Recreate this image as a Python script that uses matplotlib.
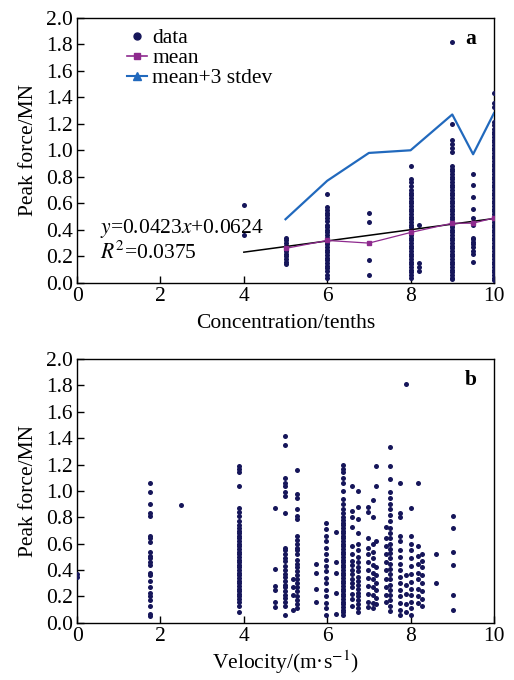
import matplotlib
matplotlib.use("Agg")
import matplotlib.pyplot as plt
from matplotlib.lines import Line2D

# ----------------------------------------------------------------------
# Data
# ----------------------------------------------------------------------
# (a) peak force vs ice concentration
conc_levels = [4, 5, 6, 7, 8, 8.2, 9, 9.5, 10]
force_c4 = [0.59, 0.36]
force_c5 = [0.34, 0.32, 0.30, 0.28, 0.27, 0.25, 0.24, 0.22, 0.20, 0.18, 0.16, 0.14]
force_c6 = [0.67, 0.57, 0.55, 0.53, 0.51, 0.49, 0.47, 0.44, 0.42, 0.40, 0.38, 0.36,
            0.34, 0.33, 0.31, 0.29, 0.27, 0.25, 0.23, 0.21, 0.19, 0.17, 0.15, 0.13,
            0.11, 0.09, 0.06, 0.04]
force_c7 = [0.53, 0.46, 0.17, 0.06]
force_c8 = [0.88, 0.78, 0.76, 0.73, 0.70, 0.68, 0.66, 0.64, 0.62, 0.60, 0.58, 0.56,
            0.54, 0.52, 0.50, 0.48, 0.46, 0.44, 0.42, 0.40, 0.38, 0.36, 0.34, 0.32,
            0.30, 0.28, 0.26, 0.24, 0.22, 0.20, 0.18, 0.16, 0.14, 0.12, 0.10, 0.08,
            0.06, 0.04]
force_c82 = [0.44, 0.15, 0.12, 0.09]
force_c9 = [1.82, 1.20, 1.08, 1.05, 1.02, 0.99, 0.88, 0.86, 0.84, 0.82, 0.80, 0.78,
            0.76, 0.74, 0.72, 0.70, 0.68, 0.66, 0.64, 0.62, 0.60, 0.58, 0.56, 0.54,
            0.52, 0.50, 0.48, 0.46, 0.44, 0.42, 0.40, 0.38, 0.36, 0.34, 0.32, 0.30,
            0.28, 0.26, 0.24, 0.22, 0.20, 0.18, 0.16, 0.14, 0.12, 0.10, 0.08, 0.06,
            0.04, 0.03]
force_c95 = [0.82, 0.74, 0.65, 0.56, 0.49, 0.46, 0.44, 0.34, 0.33, 0.31, 0.29, 0.27,
             0.24, 0.22, 0.16]
force_c10 = [1.43, 1.36, 1.33, 1.21, 1.19, 1.16, 1.14, 1.12, 1.10, 1.08, 1.06, 1.04,
             1.02, 1.00, 0.98, 0.96, 0.94, 0.92, 0.90, 0.88, 0.86, 0.84, 0.82, 0.80,
             0.78, 0.76, 0.74, 0.72, 0.70, 0.68, 0.66, 0.64, 0.62, 0.60, 0.58, 0.56,
             0.54, 0.52, 0.50, 0.48, 0.46, 0.44, 0.42, 0.40, 0.38, 0.36, 0.34, 0.32,
             0.30, 0.28, 0.26, 0.24, 0.22, 0.20, 0.18, 0.16, 0.14, 0.12, 0.10, 0.08,
             0.06, 0.04, 0.02]
force_by_conc = [force_c4, force_c5, force_c6, force_c7, force_c8, force_c82,
                 force_c9, force_c95, force_c10]

stat_conc = [5, 6, 7, 8, 9, 9.5, 10]
mean_force = [0.26, 0.32, 0.30, 0.38, 0.45, 0.45, 0.49]
upper_force = [0.48, 0.77, 0.98, 1.00, 1.27, 0.97, 1.28]

fit_slope, fit_icpt = 0.0423, 0.0624
fit_range = [4, 10]

# (b) peak force vs velocity
vel_levels = [0.0, 1.74, 2.5, 3.88, 4.74, 4.98, 5.18, 5.28, 5.74, 5.98, 6.22, 6.38,
              6.6, 6.74, 6.98, 7.1, 7.18, 7.42, 7.51, 7.74, 7.88, 8.02, 8.18, 8.28,
              8.62, 9.02]
force_v00 = [0.35, 0.37]
force_v17 = [1.06, 0.99, 0.90, 0.83, 0.81, 0.66, 0.64, 0.61, 0.54, 0.51, 0.49, 0.46,
             0.44, 0.38, 0.36, 0.32, 0.27, 0.23, 0.20, 0.17, 0.13, 0.07, 0.05]
force_v25 = [0.89]
force_v39 = [1.19, 1.17, 1.14, 1.04, 0.87, 0.84, 0.81, 0.77, 0.74, 0.72, 0.70, 0.68,
             0.66, 0.64, 0.62, 0.60, 0.58, 0.56, 0.54, 0.52, 0.50, 0.48, 0.46, 0.44,
             0.42, 0.40, 0.38, 0.36, 0.34, 0.32, 0.30, 0.28, 0.26, 0.24, 0.22, 0.20,
             0.18, 0.16, 0.13, 0.08]
force_v47 = [0.87, 0.41, 0.28, 0.25, 0.16, 0.12]
force_v50 = [1.42, 1.35, 1.10, 1.06, 1.04, 0.99, 0.96, 0.83, 0.57, 0.55, 0.52, 0.49,
             0.47, 0.43, 0.40, 0.37, 0.35, 0.32, 0.29, 0.27, 0.24, 0.21, 0.19, 0.16,
             0.13, 0.06]
force_v52 = [0.33, 0.27, 0.21, 0.10]
force_v53 = [1.16, 0.98, 0.95, 0.86, 0.81, 0.79, 0.66, 0.63, 0.60, 0.57, 0.55, 0.52,
             0.48, 0.45, 0.42, 0.39, 0.36, 0.33, 0.30, 0.27, 0.24, 0.20, 0.17, 0.14,
             0.11]
force_v57 = [0.45, 0.38, 0.26, 0.16]
force_v60 = [0.76, 0.71, 0.66, 0.62, 0.57, 0.52, 0.48, 0.43, 0.39, 0.34, 0.30, 0.25,
             0.20, 0.15, 0.11, 0.06]
force_v62 = [0.69, 0.46, 0.38, 0.23, 0.07]
force_v64 = [1.20, 1.17, 1.14, 1.10, 1.06, 1.00, 0.94, 0.90, 0.86, 0.83, 0.80, 0.78,
             0.76, 0.74, 0.72, 0.70, 0.68, 0.66, 0.64, 0.62, 0.60, 0.58, 0.56, 0.54,
             0.52, 0.50, 0.48, 0.46, 0.44, 0.42, 0.40, 0.38, 0.36, 0.34, 0.32, 0.30,
             0.28, 0.26, 0.24, 0.22, 0.20, 0.18, 0.16, 0.14, 0.12, 0.10, 0.08, 0.06]
force_v66 = [1.04, 0.85, 0.80, 0.73, 0.58, 0.52, 0.47, 0.44, 0.40, 0.37, 0.33, 0.30,
             0.27, 0.22, 0.18, 0.13]
force_v67 = [1.00, 0.88, 0.79, 0.68, 0.60, 0.55, 0.50, 0.46, 0.42, 0.39, 0.35, 0.32,
             0.29, 0.26, 0.23, 0.20, 0.17, 0.14, 0.11, 0.08]
force_v70 = [0.88, 0.84, 0.64, 0.57, 0.52, 0.46, 0.40, 0.34, 0.28, 0.22, 0.16, 0.12]
force_v71 = [0.93, 0.80, 0.60, 0.54, 0.49, 0.44, 0.38, 0.33, 0.27, 0.21, 0.15, 0.11]
force_v72 = [1.19, 1.04, 0.62, 0.42, 0.36, 0.30, 0.25, 0.19, 0.14]
force_v74 = [0.73, 0.64, 0.58, 0.52, 0.46, 0.40, 0.33, 0.27, 0.21, 0.16]
force_v75 = [1.33, 1.19, 1.09, 0.99, 0.95, 0.90, 0.86, 0.82, 0.77, 0.72, 0.68, 0.64,
             0.60, 0.56, 0.53, 0.49, 0.45, 0.41, 0.37, 0.33, 0.29, 0.25, 0.21, 0.17,
             0.13, 0.09]
force_v77 = [1.06, 0.83, 0.80, 0.66, 0.62, 0.55, 0.50, 0.45, 0.40, 0.35, 0.30, 0.25,
             0.20, 0.15, 0.10, 0.06]
force_v79 = [1.81, 0.36, 0.29, 0.22, 0.14, 0.08]
force_v80 = [0.87, 0.66, 0.60, 0.55, 0.49, 0.43, 0.37, 0.31, 0.26, 0.21, 0.16, 0.11,
             0.06]
force_v82 = [1.06, 0.58, 0.51, 0.45, 0.38, 0.33, 0.26, 0.20, 0.15]
force_v83 = [0.52, 0.47, 0.42, 0.36, 0.30, 0.24, 0.18, 0.13]
force_v86 = [0.52, 0.30]
force_v90 = [0.81, 0.72, 0.54, 0.44, 0.21, 0.10]
force_by_vel = [force_v00, force_v17, force_v25, force_v39, force_v47, force_v50,
                force_v52, force_v53, force_v57, force_v60, force_v62, force_v64,
                force_v66, force_v67, force_v70, force_v71, force_v72, force_v74,
                force_v75, force_v77, force_v79, force_v80, force_v82, force_v83,
                force_v86, force_v90]

yticks = [0.0, 0.2, 0.4, 0.6, 0.8, 1.0, 1.2, 1.4, 1.6, 1.8, 2.0]
xticks = [0, 2, 4, 6, 8, 10]

# ----------------------------------------------------------------------
# Style
# ----------------------------------------------------------------------
plt.rcParams["font.family"] = ["Liberation Serif", "DejaVu Serif"]
plt.rcParams["mathtext.fontset"] = "stix"
FS = 15.5
plt.rcParams["font.size"] = FS

DOT = "#16165a"
BLUE = "#2169bd"
PURPLE = "#8e2a8e"


def flatten(levels, groups):
    xs, ys = [], []
    for lv, grp in zip(levels, groups):
        xs += [lv] * len(grp)
        ys += grp
    return xs, ys


def style_axes(ax):
    ax.set_xlim(0, 10)
    ax.set_ylim(0, 2.0)
    ax.set_xticks(xticks)
    ax.set_yticks(yticks)
    ax.set_yticklabels([f"{t:.1f}" for t in yticks])
    ax.tick_params(direction="in", length=5, width=1, labelsize=FS, pad=3)
    for sp in ax.spines.values():
        sp.set_linewidth(1.0)
    ax.set_ylabel("Peak force/MN", fontsize=FS, labelpad=6)


fig = plt.figure(figsize=(5.14, 6.8), dpi=100)
ax_a = fig.add_axes([0.150, 0.584, 0.811, 0.390])
ax_b = fig.add_axes([0.150, 0.084, 0.811, 0.388])

# ---- panel a ----
xa, ya = flatten(conc_levels, force_by_conc)
ax_a.scatter(xa, ya, s=13, color=DOT, linewidths=0, zorder=3)
fit_y = [fit_slope * v + fit_icpt for v in fit_range]
ax_a.plot(fit_range, fit_y, color="black", lw=1.1, zorder=4)
ax_a.plot(stat_conc, mean_force, color=PURPLE, lw=0.9, marker="s", ms=3.5, zorder=4)
ax_a.plot(stat_conc, upper_force, color=BLUE, lw=1.6, zorder=4)
style_axes(ax_a)
ax_a.set_xlabel("Concentration/tenths", fontsize=FS, labelpad=6)

handles = [
    Line2D([], [], color=DOT, marker="o", ls="none", ms=5),
    Line2D([], [], color=PURPLE, marker="s", ms=5, lw=1.2),
    Line2D([], [], color=BLUE, marker="^", ms=6, lw=1.5),
]
ax_a.legend(handles, ["data", "mean", "mean+3 stdev"], loc="upper left",
            frameon=False, fontsize=FS, handlelength=0.9, handletextpad=0.25,
            labelspacing=0.0, borderaxespad=0.0, borderpad=0.3,
            bbox_to_anchor=(0.105, 0.985))
ax_a.text(0.55, 0.375, "$y$=0.0423$x$+0.0624", fontsize=FS)
ax_a.text(0.55, 0.185, "$R^2$=0.0375", fontsize=FS)
ax_a.text(9.3, 1.8, "a", fontsize=FS, fontweight="bold")

# ---- panel b ----
xb, yb = flatten(vel_levels, force_by_vel)
ax_b.scatter(xb, yb, s=13, color=DOT, linewidths=0, zorder=3)
style_axes(ax_b)
ax_b.set_xlabel("Velocity/(m·s$^{-1}$)", fontsize=FS, labelpad=2)
ax_b.text(9.3, 1.8, "b", fontsize=FS, fontweight="bold")

fig.savefig("out.png", dpi=100)
